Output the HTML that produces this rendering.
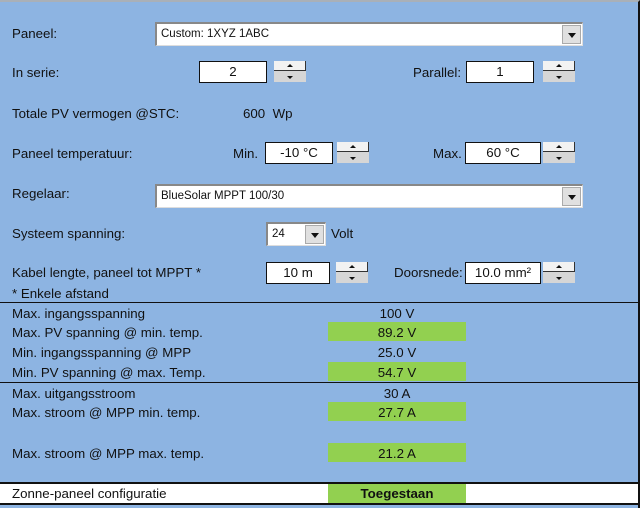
<!DOCTYPE html>
<html><head><meta charset="utf-8"><style>
body{margin:0;width:644px;height:508px;overflow:hidden;background:#fff;font-family:"Liberation Sans",sans-serif;}
#p{position:absolute;left:0;top:0;width:640px;height:508px;background:#8db4e2;border-top:2px solid #a9b0b8;box-sizing:border-box;border-right:2px solid #111;}
.t{position:absolute;font-size:13.3px;color:#111;white-space:nowrap;line-height:16px;}
.box{position:absolute;background:#fff;border:1px solid #111;box-sizing:border-box;font-size:13.3px;text-align:center;line-height:20px;color:#111;}
.combo{position:absolute;background:#fff;border-top:2px solid #888;border-left:2px solid #888;border-right:1px solid #ddd;border-bottom:1px solid #ddd;box-sizing:border-box;font-size:11.5px;line-height:21px;padding-left:4px;color:#111;}
.arr{position:absolute;right:1px;top:1px;bottom:1px;width:19px;background:#e0e0e0;border:1px solid #aaa;box-sizing:border-box;}
.arr:after{content:"";position:absolute;left:5px;top:7px;border-left:4px solid transparent;border-right:4px solid transparent;border-top:5px solid #111;}
.sp{position:absolute;width:32px;height:21px;}
.sp .u{position:absolute;left:0;top:0;width:32px;height:10px;background:#f2f2f2;border-bottom:1px solid #333;border-right:1px solid #333;box-sizing:border-box;}
.sp .d{position:absolute;left:0;top:10px;width:32px;height:11px;background:#d6d6d6;}
.sp .u:after{content:"";position:absolute;left:13px;top:3px;border-left:3px solid transparent;border-right:3px solid transparent;border-bottom:3px solid #111;}
.sp .d:after{content:"";position:absolute;left:13px;top:5px;border-left:3px solid transparent;border-right:3px solid transparent;border-top:3px solid #111;}
.g{position:absolute;left:328px;width:138px;height:19px;background:#92d050;}
.v{position:absolute;left:328px;width:138px;text-align:center;font-size:13.3px;line-height:16px;color:#111;}
.hl{position:absolute;left:0;width:638px;background:#111;}
</style></head><body>
<div id="p">
<div class="t" style="left:12px;top:24px">Paneel:</div>
<div class="combo" style="left:155px;top:20px;width:428px;height:24px">Custom: 1XYZ 1ABC<div class="arr"></div></div>

<div class="t" style="left:12px;top:63px">In serie:</div>
<div class="box" style="left:199px;top:59px;width:68px;height:22px">2</div>
<div class="sp" style="left:274px;top:59px"><div class="u"></div><div class="d"></div></div>
<div class="t" style="left:413px;top:63px">Parallel:</div>
<div class="box" style="left:466px;top:59px;width:68px;height:22px">1</div>
<div class="sp" style="left:543px;top:59px"><div class="u"></div><div class="d"></div></div>

<div class="t" style="left:12px;top:104px">Totale PV vermogen @STC:</div>
<div class="t" style="left:243px;top:104px">600&nbsp; Wp</div>

<div class="t" style="left:12px;top:144px">Paneel temperatuur:</div>
<div class="t" style="left:233px;top:144px">Min.</div>
<div class="box" style="left:265px;top:140px;width:68px;height:22px">-10 °C</div>
<div class="sp" style="left:337px;top:140px"><div class="u"></div><div class="d"></div></div>
<div class="t" style="left:433px;top:144px">Max.</div>
<div class="box" style="left:465px;top:140px;width:76px;height:22px">60 °C</div>
<div class="sp" style="left:543px;top:140px"><div class="u"></div><div class="d"></div></div>

<div class="t" style="left:12px;top:184px">Regelaar:</div>
<div class="combo" style="left:155px;top:182px;width:428px;height:24px">BlueSolar MPPT 100/30<div class="arr"></div></div>

<div class="t" style="left:12px;top:224px">Systeem spanning:</div>
<div class="combo" style="left:266px;top:220px;width:60px;height:24px">24<div class="arr"></div></div>
<div class="t" style="left:331px;top:224px">Volt</div>

<div class="t" style="left:12px;top:263px">Kabel lengte, paneel tot MPPT *</div>
<div class="box" style="left:266px;top:260px;width:64px;height:22px">10 m</div>
<div class="sp" style="left:336px;top:260px"><div class="u"></div><div class="d"></div></div>
<div class="t" style="left:394px;top:263px">Doorsnede:</div>
<div class="box" style="left:465px;top:260px;width:76px;height:22px">10.0 mm²</div>
<div class="sp" style="left:543px;top:260px"><div class="u"></div><div class="d"></div></div>
<div class="t" style="left:12px;top:284px">* Enkele afstand</div>

<div class="hl" style="top:300px;height:1px"></div>
<div class="t" style="left:12px;top:304px">Max. ingangsspanning</div>
<div class="v" style="top:304px">100 V</div>
<div class="g" style="top:320px"></div>
<div class="t" style="left:12px;top:323px">Max. PV spanning @ min. temp.</div>
<div class="v" style="top:323px">89.2 V</div>
<div class="t" style="left:12px;top:343px">Min. ingangsspanning @ MPP</div>
<div class="v" style="top:343px">25.0 V</div>
<div class="g" style="top:360px"></div>
<div class="t" style="left:12px;top:363px">Min. PV spanning @ max. Temp.</div>
<div class="v" style="top:363px">54.7 V</div>
<div class="hl" style="top:380px;height:1px"></div>
<div class="t" style="left:12px;top:384px">Max. uitgangsstroom</div>
<div class="v" style="top:384px">30 A</div>
<div class="g" style="top:400px"></div>
<div class="t" style="left:12px;top:403px">Max. stroom @ MPP min. temp.</div>
<div class="v" style="top:403px">27.7 A</div>
<div class="g" style="top:441px"></div>
<div class="t" style="left:12px;top:444px">Max. stroom @ MPP max. temp.</div>
<div class="v" style="top:444px">21.2 A</div>

<div class="hl" style="top:480px;height:2px"></div>
<div style="position:absolute;left:0;top:482px;width:638px;height:19px;background:#fff"></div>
<div class="g" style="top:482px"></div>
<div class="t" style="left:12px;top:484px">Zonne-paneel configuratie</div>
<div class="v" style="top:484px;font-weight:bold">Toegestaan</div>
<div class="hl" style="top:501px;height:2px"></div>
</div>
</body></html>
